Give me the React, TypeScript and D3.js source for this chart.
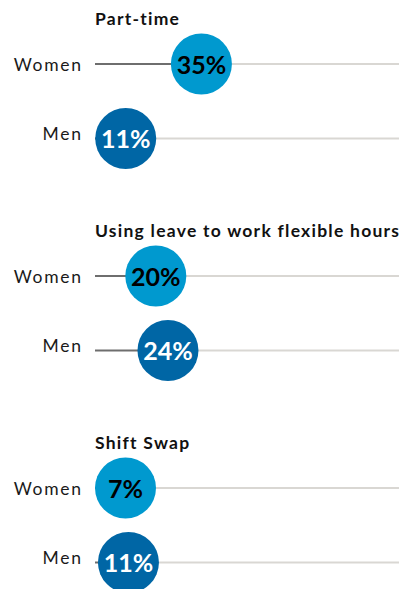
import React from "react";
import * as d3 from "d3";

const panels = ["Part-time", "Using leave to work flexible hours", "Shift Swap"];
const groups = ["Women", "Men"];
// percentage values per panel: [Women, Men]
const partTime = [35, 10.1];
const flexibleLeave = [20, 24];
const shiftSwap = [7, 11];
const valueLabels = [
  ["35%", "11%"],
  ["20%", "24%"],
  ["7%", "11%"],
];
const groupColors = ["#0099cf", "#0066a5"];
const groupTextColors = ["#000000", "#ffffff"];

const W = 399;
const H = 589;

export default function App() {
  const series = [partTime, flexibleLeave, shiftSwap];
  const x = d3.scaleLinear().domain([0, 100]).range([95, 399]);
  const r = 30.5;
  const panelY = d3.scaleLinear().domain([0, 1]).range([0, 212]);
  const rowY = d3.scaleOrdinal<string, number>().domain(groups).range([64, 138.5]);
  const labelDy = d3.scaleOrdinal<string, number>().domain(groups).range([6.5, 1]);
  const font = "Lato, 'Noto Sans', sans-serif";
  const labelSpacing = 1.7;

  return (
    <svg
      width={W}
      height={H}
      style={{ position: "absolute", left: 0, top: 0, display: "block" }}
    >
      <rect width={W} height={H} fill="#ffffff" />
      {panels.map((title, pi) => {
        const oy = panelY(pi);
        return (
          <g key={title} transform={`translate(0,${oy})`}>
            <text
              x={95}
              y={25}
              fontFamily={font}
              fontWeight={700}
              fontSize={17.5}
              letterSpacing={1.25}
              fill="#111"
            >
              {title}
            </text>
            {groups.map((g, gi) => {
              const v = series[pi][gi];
              const cy = rowY(g);
              const cx = Math.max(x(v), x(0) + r);
              return (
                <g key={g}>
                  <text
                    x={81 + labelSpacing}
                    y={cy + labelDy(g)}
                    textAnchor="end"
                    fontFamily={font}
                    fontSize={17.5}
                    letterSpacing={labelSpacing}
                    fill="#1a1a1a"
                  >
                    {g}
                  </text>
                  <line
                    x1={x(v)}
                    x2={x(100)}
                    y1={cy}
                    y2={cy}
                    stroke="#d9d7d3"
                    strokeWidth={2.2}
                  />
                  <line
                    x1={x(0)}
                    x2={x(v)}
                    y1={cy}
                    y2={cy}
                    stroke="#6e6e6e"
                    strokeWidth={2.2}
                  />
                  <circle cx={cx} cy={cy} r={r} fill={groupColors[gi]} />
                  <text
                    x={cx}
                    y={cy + 9.5}
                    textAnchor="middle"
                    fontFamily={font}
                    fontWeight={700}
                    fontSize={25}
                    fill={groupTextColors[gi]}
                  >
                    {valueLabels[pi][gi]}
                  </text>
                </g>
              );
            })}
          </g>
        );
      })}
    </svg>
  );
}
